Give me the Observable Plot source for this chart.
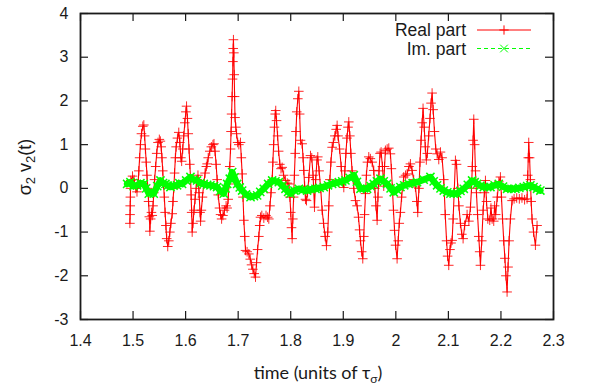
<!DOCTYPE html>
<html><head><meta charset="utf-8">
<script src="https://cdn.jsdelivr.net/npm/d3@7"></script>
<script src="https://cdn.jsdelivr.net/npm/@observablehq/plot@0.6"></script>
<style>
html,body{margin:0;padding:0;background:#fff;}
#chart{width:595px;height:387px;}
</style></head><body><div id="chart"></div>
<script>
// ---- data ----
const seriesNames = ["Real part", "Im. part"];
const xTicks = [1.4, 1.5, 1.6, 1.7, 1.8, 1.9, 2.0, 2.1, 2.2, 2.3];
const yTicks = [-3, -2, -1, 0, 1, 2, 3, 4];
const realPart = [[1.4940,-0.80],[1.4943,-0.60],[1.4946,-0.40],[1.4949,-0.20],[1.4952,0.00],[1.4956,0.18],[1.4990,0.28],[1.5020,0.20],[1.5050,0.00],[1.5075,-0.08],[1.5095,0.10],[1.5110,0.40],[1.5125,0.70],[1.5140,1.00],[1.5160,1.25],[1.5185,1.42],[1.5205,1.45],[1.5220,1.20],[1.5235,0.90],[1.5250,0.60],[1.5265,0.30],[1.5280,0.00],[1.5295,-0.30],[1.5310,-0.65],[1.5320,-0.98],[1.5335,-0.70],[1.5350,-0.55],[1.5365,-0.62],[1.5380,-0.40],[1.5395,-0.10],[1.5410,0.20],[1.5430,0.50],[1.5450,0.80],[1.5475,1.05],[1.5500,1.12],[1.5520,1.08],[1.5535,0.95],[1.5550,0.70],[1.5565,0.40],[1.5580,0.10],[1.5595,-0.20],[1.5610,-0.55],[1.5625,-0.85],[1.5640,-1.15],[1.5660,-1.33],[1.5680,-1.20],[1.5700,-1.00],[1.5720,-0.80],[1.5745,-0.58],[1.5760,-0.30],[1.5775,0.00],[1.5790,0.35],[1.5805,0.70],[1.5820,0.95],[1.5845,1.15],[1.5870,1.28],[1.5890,1.05],[1.5910,0.70],[1.5925,0.62],[1.5945,0.90],[1.5965,1.20],[1.5985,1.50],[1.6005,1.75],[1.6018,1.88],[1.6035,1.60],[1.6050,1.25],[1.6065,0.90],[1.6080,0.55],[1.6095,0.20],[1.6105,-0.15],[1.6115,-0.55],[1.6125,-1.00],[1.6140,-0.80],[1.6160,-0.50],[1.6180,-0.25],[1.6200,0.00],[1.6220,0.20],[1.6235,0.30],[1.6255,-0.10],[1.6275,-0.55],[1.6285,-0.75],[1.6300,-0.50],[1.6320,-0.20],[1.6345,0.10],[1.6370,0.35],[1.6395,0.50],[1.6410,0.56],[1.6430,0.70],[1.6460,0.85],[1.6490,0.95],[1.6520,1.00],[1.6540,1.02],[1.6560,0.85],[1.6580,0.55],[1.6600,0.20],[1.6620,-0.15],[1.6645,-0.45],[1.6665,-0.60],[1.6685,-0.70],[1.6710,-0.62],[1.6740,-0.50],[1.6770,-0.40],[1.6790,-0.45],[1.6810,-0.25],[1.6825,0.10],[1.6840,0.50],[1.6855,0.90],[1.6865,1.30],[1.6875,1.70],[1.6885,2.10],[1.6893,2.50],[1.6900,2.90],[1.6905,3.20],[1.6910,3.40],[1.6918,3.10],[1.6925,2.60],[1.6932,2.10],[1.6940,1.62],[1.6955,1.40],[1.6970,1.25],[1.6990,1.05],[1.7013,1.00],[1.7044,1.05],[1.7060,0.70],[1.7076,0.33],[1.7092,-0.20],[1.7108,-0.73],[1.7125,-1.10],[1.7140,-1.42],[1.7170,-1.45],[1.7203,-1.50],[1.7230,-1.62],[1.7255,-1.75],[1.7280,-1.85],[1.7305,-1.95],[1.7330,-2.03],[1.7350,-1.70],[1.7370,-1.40],[1.7393,-1.10],[1.7410,-0.85],[1.7425,-0.66],[1.7450,-0.62],[1.7488,-0.68],[1.7530,-0.62],[1.7560,-0.66],[1.7583,-0.70],[1.7605,-0.40],[1.7625,-0.10],[1.7647,0.20],[1.7660,0.60],[1.7675,1.00],[1.7690,1.40],[1.7705,1.70],[1.7715,1.78],[1.7730,1.55],[1.7750,1.20],[1.7770,0.85],[1.7793,0.55],[1.7815,0.45],[1.7837,0.48],[1.7865,0.30],[1.7900,0.18],[1.7935,0.12],[1.7964,0.10],[1.7985,-0.20],[1.8000,-0.55],[1.8015,-0.90],[1.8027,-1.15],[1.8040,-0.70],[1.8055,-0.20],[1.8070,0.30],[1.8085,0.80],[1.8100,1.30],[1.8115,1.75],[1.8135,2.05],[1.8154,2.22],[1.8170,1.70],[1.8186,1.10],[1.8217,1.02],[1.8235,0.70],[1.8249,0.41],[1.8265,0.05],[1.8281,-0.25],[1.8300,-0.28],[1.8320,-0.10],[1.8345,0.25],[1.8376,0.75],[1.8400,0.70],[1.8425,0.30],[1.8452,-0.43],[1.8475,0.20],[1.8500,0.65],[1.8515,0.72],[1.8540,0.40],[1.8570,0.00],[1.8598,-0.50],[1.8625,-0.80],[1.8655,-1.10],[1.8680,-1.31],[1.8705,-1.00],[1.8725,-0.40],[1.8745,0.20],[1.8765,0.60],[1.8788,0.94],[1.8810,1.05],[1.8840,1.20],[1.8865,1.35],[1.8883,1.44],[1.8900,1.20],[1.8930,0.90],[1.8960,0.50],[1.8985,0.15],[1.9010,0.02],[1.9030,0.40],[1.9050,0.80],[1.9070,1.15],[1.9090,1.40],[1.9105,1.52],[1.9125,1.20],[1.9145,0.80],[1.9168,0.40],[1.9200,0.00],[1.9232,-0.28],[1.9263,-0.40],[1.9290,-0.66],[1.9310,-0.95],[1.9327,-1.20],[1.9350,-1.45],[1.9371,-1.61],[1.9390,-1.10],[1.9405,-0.60],[1.9422,-0.12],[1.9440,0.30],[1.9460,0.60],[1.9485,0.72],[1.9515,0.68],[1.9549,0.60],[1.9580,0.41],[1.9600,0.00],[1.9622,-0.40],[1.9644,-0.73],[1.9660,-0.20],[1.9680,0.40],[1.9700,0.80],[1.9720,0.83],[1.9745,0.50],[1.9770,0.05],[1.9785,0.50],[1.9802,0.87],[1.9835,0.90],[1.9866,0.92],[1.9897,0.79],[1.9915,0.45],[1.9935,0.00],[1.9955,-0.50],[1.9975,-0.96],[1.9995,-1.30],[2.0024,-1.61],[2.0045,-1.20],[2.0065,-0.80],[2.0087,-0.55],[2.0110,-0.20],[2.0150,0.26],[2.0185,0.30],[2.0214,0.33],[2.0250,0.50],[2.0278,0.56],[2.0309,0.41],[2.0340,0.20],[2.0373,0.03],[2.0400,-0.30],[2.0417,-0.55],[2.0440,0.00],[2.0460,0.60],[2.0480,1.10],[2.0500,1.50],[2.0518,1.83],[2.0540,1.40],[2.0560,0.95],[2.0580,0.65],[2.0600,0.80],[2.0625,1.20],[2.0650,1.60],[2.0670,1.95],[2.0690,2.18],[2.0710,1.80],[2.0735,1.30],[2.0760,0.90],[2.0785,0.79],[2.0817,0.66],[2.0849,0.83],[2.0880,0.70],[2.0912,0.20],[2.0940,-0.60],[2.0965,-1.20],[2.0985,-1.55],[2.1007,-1.76],[2.1030,-1.40],[2.1050,-1.25],[2.1071,-1.19],[2.1090,-0.70],[2.1110,-0.10],[2.1134,0.64],[2.1155,0.55],[2.1180,0.00],[2.1200,-0.40],[2.1229,-0.80],[2.1255,-1.05],[2.1280,-1.15],[2.1310,-0.85],[2.1356,-0.60],[2.1390,-0.75],[2.1420,-0.43],[2.1440,0.00],[2.1455,0.50],[2.1470,1.10],[2.1483,1.58],[2.1500,1.00],[2.1515,0.40],[2.1534,-0.10],[2.1555,-0.60],[2.1578,-1.10],[2.1595,-1.45],[2.1610,-1.76],[2.1635,-1.20],[2.1661,-0.50],[2.1685,-0.10],[2.1705,0.18],[2.1725,-0.30],[2.1750,-0.70],[2.1787,-0.73],[2.1810,-0.45],[2.1832,-0.70],[2.1863,-0.75],[2.1880,-0.40],[2.1900,-0.60],[2.1930,-0.20],[2.1960,0.15],[2.1990,0.26],[2.2010,-0.20],[2.2030,-0.70],[2.2053,-1.20],[2.2075,-1.60],[2.2095,-2.00],[2.2117,-2.37],[2.2135,-1.80],[2.2155,-1.20],[2.2180,-0.70],[2.2212,-0.28],[2.2250,-0.24],[2.2300,-0.22],[2.2350,-0.24],[2.2400,-0.22],[2.2450,-0.26],[2.2497,-0.24],[2.2510,0.30],[2.2520,0.70],[2.2529,1.05],[2.2545,0.70],[2.2560,0.20],[2.2575,-0.30],[2.2592,-0.70],[2.2620,-1.00],[2.2656,-1.30],[2.2687,-0.85]];
const imPart = [[1.4887,0.10],[1.4950,0.14],[1.5010,0.05],[1.5077,0.07],[1.5140,0.12],[1.5204,0.10],[1.5250,0.00],[1.5299,-0.12],[1.5350,-0.08],[1.5394,-0.12],[1.5460,0.05],[1.5521,0.18],[1.5570,0.12],[1.5616,0.10],[1.5660,0.06],[1.5711,0.03],[1.5770,0.06],[1.5838,0.07],[1.5880,0.12],[1.5933,0.10],[1.6010,0.18],[1.6092,0.26],[1.6150,0.20],[1.6218,0.18],[1.6280,0.12],[1.6345,0.10],[1.6410,0.08],[1.6472,0.07],[1.6540,0.05],[1.6599,0.03],[1.6660,-0.06],[1.6726,-0.12],[1.6760,0.00],[1.6791,0.10],[1.6840,0.22],[1.6886,0.37],[1.6930,0.25],[1.6981,0.10],[1.7030,0.02],[1.7076,-0.05],[1.7150,-0.14],[1.7235,-0.20],[1.7300,-0.18],[1.7361,-0.16],[1.7420,-0.08],[1.7488,-0.01],[1.7570,0.10],[1.7647,0.18],[1.7710,0.16],[1.7773,0.14],[1.7840,0.06],[1.7900,-0.01],[1.7950,-0.08],[1.7995,-0.12],[1.8070,-0.05],[1.8154,-0.01],[1.8230,-0.04],[1.8312,-0.05],[1.8390,-0.02],[1.8471,-0.01],[1.8550,0.01],[1.8629,0.03],[1.8710,0.07],[1.8788,0.10],[1.8850,0.12],[1.8915,0.14],[1.8980,0.16],[1.9041,0.18],[1.9120,0.24],[1.9200,0.30],[1.9260,0.15],[1.9327,-0.01],[1.9390,0.00],[1.9453,-0.01],[1.9520,0.05],[1.9580,0.10],[1.9640,0.16],[1.9707,0.22],[1.9770,0.16],[1.9834,0.10],[1.9900,0.00],[1.9960,-0.09],[2.0020,-0.03],[2.0087,0.03],[2.0160,0.07],[2.0246,0.10],[2.0320,0.12],[2.0404,0.14],[2.0530,0.20],[2.0658,0.26],[2.0720,0.16],[2.0785,0.07],[2.0850,0.00],[2.0912,-0.05],[2.0980,-0.09],[2.1039,-0.12],[2.1100,-0.12],[2.1166,-0.12],[2.1230,-0.06],[2.1293,-0.01],[2.1370,0.08],[2.1451,0.18],[2.1500,0.14],[2.1546,0.10],[2.1610,0.06],[2.1673,0.03],[2.1740,0.03],[2.1800,0.03],[2.1880,0.07],[2.1958,0.10],[2.2040,0.04],[2.2117,-0.01],[2.2200,-0.01],[2.2275,-0.01],[2.2350,0.01],[2.2434,0.03],[2.2500,0.05],[2.2560,0.07],[2.2620,0.03],[2.2687,-0.01],[2.2750,-0.05]];

// ---- build ----
const real = realPart.map(([t, v]) => ({t, v}));
const im = imPart.map(([t, v]) => ({t, v}));
const W = 595, H = 387, mL = 80, mR = 42, mT = 13, mB = 68;
const fw = W - mL - mR, fh = H - mT - mB, tk = 8;
const RED = "#ff0000", GREEN = "#00ff00", INK = "#1a1a1a";
const fmt = d => String(+d.toFixed(1));

const chart = Plot.plot({
  width: W, height: H,
  marginLeft: mL, marginRight: mR, marginTop: mT, marginBottom: mB,
  style: {fontFamily: "'Liberation Sans', Arial, sans-serif", fontSize: "16px", color: INK, background: "#fff", overflow: "visible"},
  x: {domain: [1.4, 2.3]},
  y: {domain: [-3, 4]},
  marks: [
    Plot.line(real, {x: "t", y: "v", stroke: RED, strokeWidth: 1.1}),
    Plot.dot(real, {x: "t", y: "v", symbol: "plus", r: 3.2, stroke: RED, strokeWidth: 1, strokeOpacity: 0.85}),
    Plot.line(im, {x: "t", y: "v", stroke: GREEN, strokeWidth: 6.5, strokeLinejoin: "round"}),
    Plot.dot(im, {x: "t", y: "v", symbol: "times", r: 3.8, stroke: GREEN, strokeWidth: 1.5}),
    Plot.tickX(xTicks, {x: d => d, stroke: INK, strokeWidth: 1.2, insetTop: fh - tk}),
    Plot.tickX(xTicks, {x: d => d, stroke: INK, strokeWidth: 1.2, insetBottom: fh - tk}),
    Plot.tickY(yTicks, {y: d => d, stroke: INK, strokeWidth: 1.2, insetRight: fw - tk}),
    Plot.tickY(yTicks, {y: d => d, stroke: INK, strokeWidth: 1.2, insetLeft: fw - tk}),
    Plot.frame({stroke: INK, strokeWidth: 1.8}),
    Plot.axisX({ticks: xTicks, tickSize: 0, tickPadding: 15, tickFormat: fmt, label: null, fontSize: 16}),
    Plot.axisY({ticks: yTicks, tickSize: 0, tickPadding: 12, tickFormat: d => String(d), label: null, fontSize: 16})
  ]
});
document.getElementById("chart").appendChild(chart);

// ---- axis titles and legend ----
const svg = d3.select(chart);
const yl = svg.append("text")
  .attr("transform", "translate(31,167) rotate(-90)")
  .attr("text-anchor", "middle")
  .attr("font-family", "'Liberation Sans', Arial, sans-serif")
  .attr("font-size", 18).attr("fill", INK);
yl.append("tspan").text("σ");
yl.append("tspan").attr("dy", 4).attr("font-size", 13).text("2");
yl.append("tspan").attr("dy", -4).text(" v");
yl.append("tspan").attr("dy", 4).attr("font-size", 13).text("2");
yl.append("tspan").attr("dy", -4).text("(t)");

const xl = svg.append("text")
  .attr("x", 318).attr("y", 379)
  .attr("text-anchor", "middle")
  .attr("font-family", "Lato, 'Open Sans', sans-serif")
  .attr("font-size", 18).attr("fill", INK);
xl.append("tspan").text("time (units of τ");
xl.append("tspan").attr("dy", 4).attr("font-size", 12).text("σ");
xl.append("tspan").attr("dy", -4).text(")");

const lg = svg.append("g").attr("font-family", "'Liberation Sans', Arial, sans-serif").attr("font-size", 17.5).attr("fill", INK);
const rows = [
  {name: seriesNames[0], y: 30, color: RED, dash: null, sym: d3.symbolPlus, size: 30},
  {name: seriesNames[1], y: 48.5, color: GREEN, dash: "4,3", sym: d3.symbolTimes, size: 40}
];
rows.forEach(r => {
  lg.append("text").attr("x", 466).attr("y", r.y).attr("dy", "0.35em").attr("text-anchor", "end").text(r.name);
  lg.append("line").attr("x1", 477).attr("x2", 531).attr("y1", r.y).attr("y2", r.y)
    .attr("stroke", r.color).attr("stroke-width", 1).attr("stroke-dasharray", r.dash);
  lg.append("path").attr("d", d3.symbol(r.sym, r.size)()).attr("transform", `translate(504,${r.y})`)
    .attr("fill", "none").attr("stroke", r.color).attr("stroke-width", 1);
});
</script>
</body></html>
